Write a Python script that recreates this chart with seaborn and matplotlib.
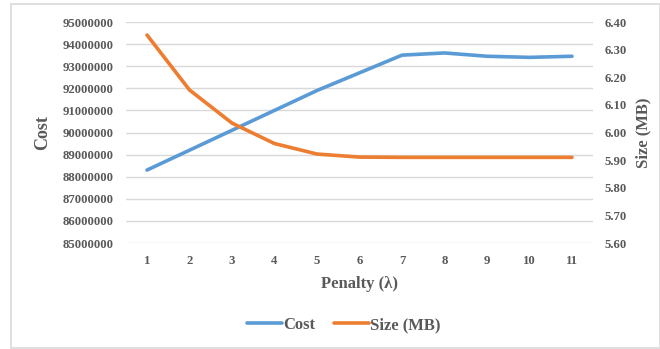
import matplotlib
matplotlib.use("Agg")
import matplotlib.pyplot as plt
import seaborn as sns
import pandas as pd
from matplotlib.patches import Rectangle
from matplotlib.lines import Line2D

penalty = [1, 2, 3, 4, 5, 6, 7, 8, 9, 10, 11]
cost = [88300000, 89200000, 90100000, 91000000, 91900000, 92700000,
        93500000, 93600000, 93450000, 93400000, 93450000]
size_mb = [6.353, 6.154, 6.034, 5.960, 5.922, 5.911,
           5.910, 5.910, 5.910, 5.910, 5.910]

cost_ticks = [85000000, 86000000, 87000000, 88000000, 89000000, 90000000,
              91000000, 92000000, 93000000, 94000000, 95000000]
size_ticks = [5.60, 5.70, 5.80, 5.90, 6.00, 6.10, 6.20, 6.30, 6.40]

sns.set_theme(style="white")
plt.rcParams["font.family"] = ["Liberation Serif", "DejaVu Serif"]

blue = "#5B9BD5"
orange = "#ED7D31"
tick_col = "#595959"

df = pd.DataFrame({"Penalty": penalty, "Cost": cost, "Size": size_mb})

fig = plt.figure(figsize=(6.6, 3.49), dpi=100)
fig.patch.set_facecolor("white")
fig.patches.append(Rectangle((11 / 660, 1 - 348 / 349), (660 - 11) / 660, (348 - 4) / 349,
                             transform=fig.transFigure, fill=False,
                             edgecolor="#D9D9D9", linewidth=1.2))

ax = fig.add_axes([125.75 / 660, 1 - 243 / 349, 467.5 / 660, 221 / 349])
ax2 = ax.twinx()

sns.lineplot(data=df, x="Penalty", y="Cost", ax=ax, color=blue, linewidth=2.6)
sns.lineplot(data=df, x="Penalty", y="Size", ax=ax2, color=orange, linewidth=2.6)

ax.set_xlim(0.5, 11.5)
ax.set_ylim(85000000, 95000000)
ax.set_yticks(cost_ticks)
ax.set_yticklabels([str(v) for v in cost_ticks])
ax2.set_ylim(5.60, 6.40)
ax2.set_yticks(size_ticks)
ax2.set_yticklabels([f"{v:.2f}" for v in size_ticks])
ax.set_xticks(penalty)
ax.set_xticklabels([str(p) for p in penalty])

ax.grid(axis="y", color="#D9D9D9", linewidth=1.0)
ax.set_axisbelow(True)
for a in (ax, ax2):
    for s in a.spines.values():
        s.set_visible(False)
    a.tick_params(length=0, colors=tick_col, labelsize=9.2)
    for lbl in a.get_xticklabels() + a.get_yticklabels():
        lbl.set_fontweight("bold")
ax.tick_params(axis="y", pad=9)
ax.tick_params(axis="x", pad=9)
ax2.tick_params(axis="y", pad=8)

ax.set_xlabel("Penalty (λ)", fontsize=12, fontweight="bold", color=tick_col, labelpad=6)
ax.set_ylabel("Cost", fontsize=13, fontweight="bold", color=tick_col)
ax.yaxis.set_label_coords((51 - 125.75) / 467.5, 0.5)
ax2.set_ylabel("Size (MB)", fontsize=12, fontweight="bold", color=tick_col)
ax2.yaxis.set_label_coords((635 - 125.75) / 467.5, 0.5)

handles = [Line2D([], [], color=blue, linewidth=2.6),
           Line2D([], [], color=orange, linewidth=2.6)]
fig.legend(handles, ["Cost", "Size (MB)"], loc="center", bbox_to_anchor=(0.521, 1 - 325 / 349),
           ncol=2, frameon=False, handlelength=2.1, handletextpad=0.1, columnspacing=1.1,
           prop={"family": "Liberation Serif", "weight": "bold", "size": 12},
           labelcolor=tick_col)

fig.savefig("out.png", dpi=100, facecolor="white")
